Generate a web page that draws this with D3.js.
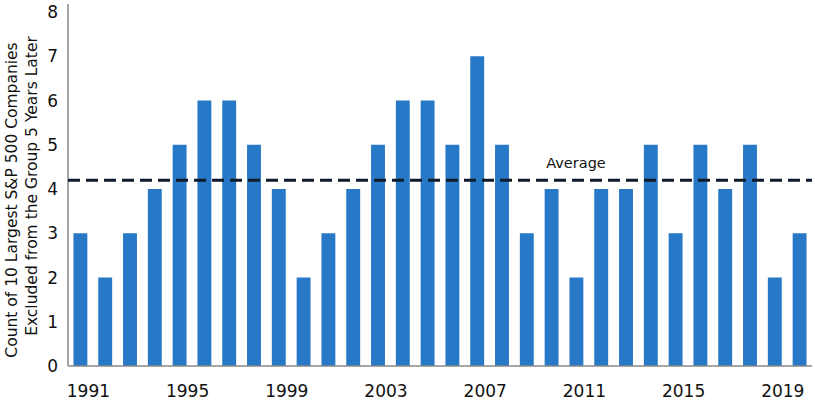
<!DOCTYPE html>
<html><head><meta charset="utf-8">
<script src="https://cdn.jsdelivr.net/npm/d3@7"></script>
<style>body{margin:0;background:#fff;} text{font-family:"DejaVu Sans",sans-serif;fill:#111;}</style>
</head><body><svg id="c" width="815" height="400"></svg>
<script>
const years = d3.range(1991, 2021);
const counts = [3,2,3,4,5,6,6,5,4,2,3,4,5,6,6,5,7,5,3,4,2,4,4,5,3,5,4,5,2,3];
const avgValue = 4.2;
const yTicks = [0,1,2,3,4,5,6,7,8];
const xTickLabels = [1991,1995,1999,2003,2007,2011,2015,2019];

(function(){
const svg = d3.select("#c");
const mL = 68, mR = 812, mT = 12, mB = 366;
const x = d3.scaleBand().domain(years).range([mL, mR]).paddingInner(0.44).paddingOuter(0.22);
const y = d3.scaleLinear().domain([0, 8]).range([mB, mT]);

svg.selectAll("rect.bar").data(years).join("rect")
  .attr("x", d => x(d)).attr("width", x.bandwidth())
  .attr("y", (d,i) => y(counts[i])).attr("height", (d,i) => y(0) - y(counts[i]))
  .attr("fill", "#2878c8");

svg.append("line").attr("x1", mL).attr("x2", mL).attr("y1", 4).attr("y2", mB).attr("stroke", "#888").attr("stroke-width", 1.5);
svg.append("line").attr("x1", mL).attr("x2", mR).attr("y1", mB).attr("y2", mB).attr("stroke", "#888").attr("stroke-width", 1.5);

svg.selectAll("text.yt").data(yTicks).join("text")
  .attr("x", 58).attr("y", d => y(d)).attr("dy", "0.36em")
  .attr("text-anchor", "end").attr("font-size", 17).text(d => d);

svg.selectAll("text.xt").data(xTickLabels).join("text")
  .attr("x", d => x(d) + x.bandwidth()/2 + 8).attr("y", 397)
  .attr("text-anchor", "middle").attr("font-size", 17).text(d => d);

svg.append("line").attr("x1", mL).attr("x2", mR).attr("y1", y(avgValue)).attr("y2", y(avgValue))
  .attr("stroke", "#0f1a2a").attr("stroke-width", 3).attr("stroke-dasharray", "12,6");
svg.append("text").attr("x", 576).attr("y", y(avgValue) - 12).attr("text-anchor", "middle")
  .attr("font-size", 14.5).text("Average");

const yt = svg.append("text").attr("transform", "translate(0,190) rotate(-90)")
  .attr("text-anchor", "middle").attr("font-size", 15.5);
yt.append("tspan").attr("x", -10).attr("y", 17).text("Count of 10 Largest S&P 500 Companies");
yt.append("tspan").attr("x", 4).attr("y", 37).text("Excluded from the Group 5 Years Later");
})();
</script></body></html>
